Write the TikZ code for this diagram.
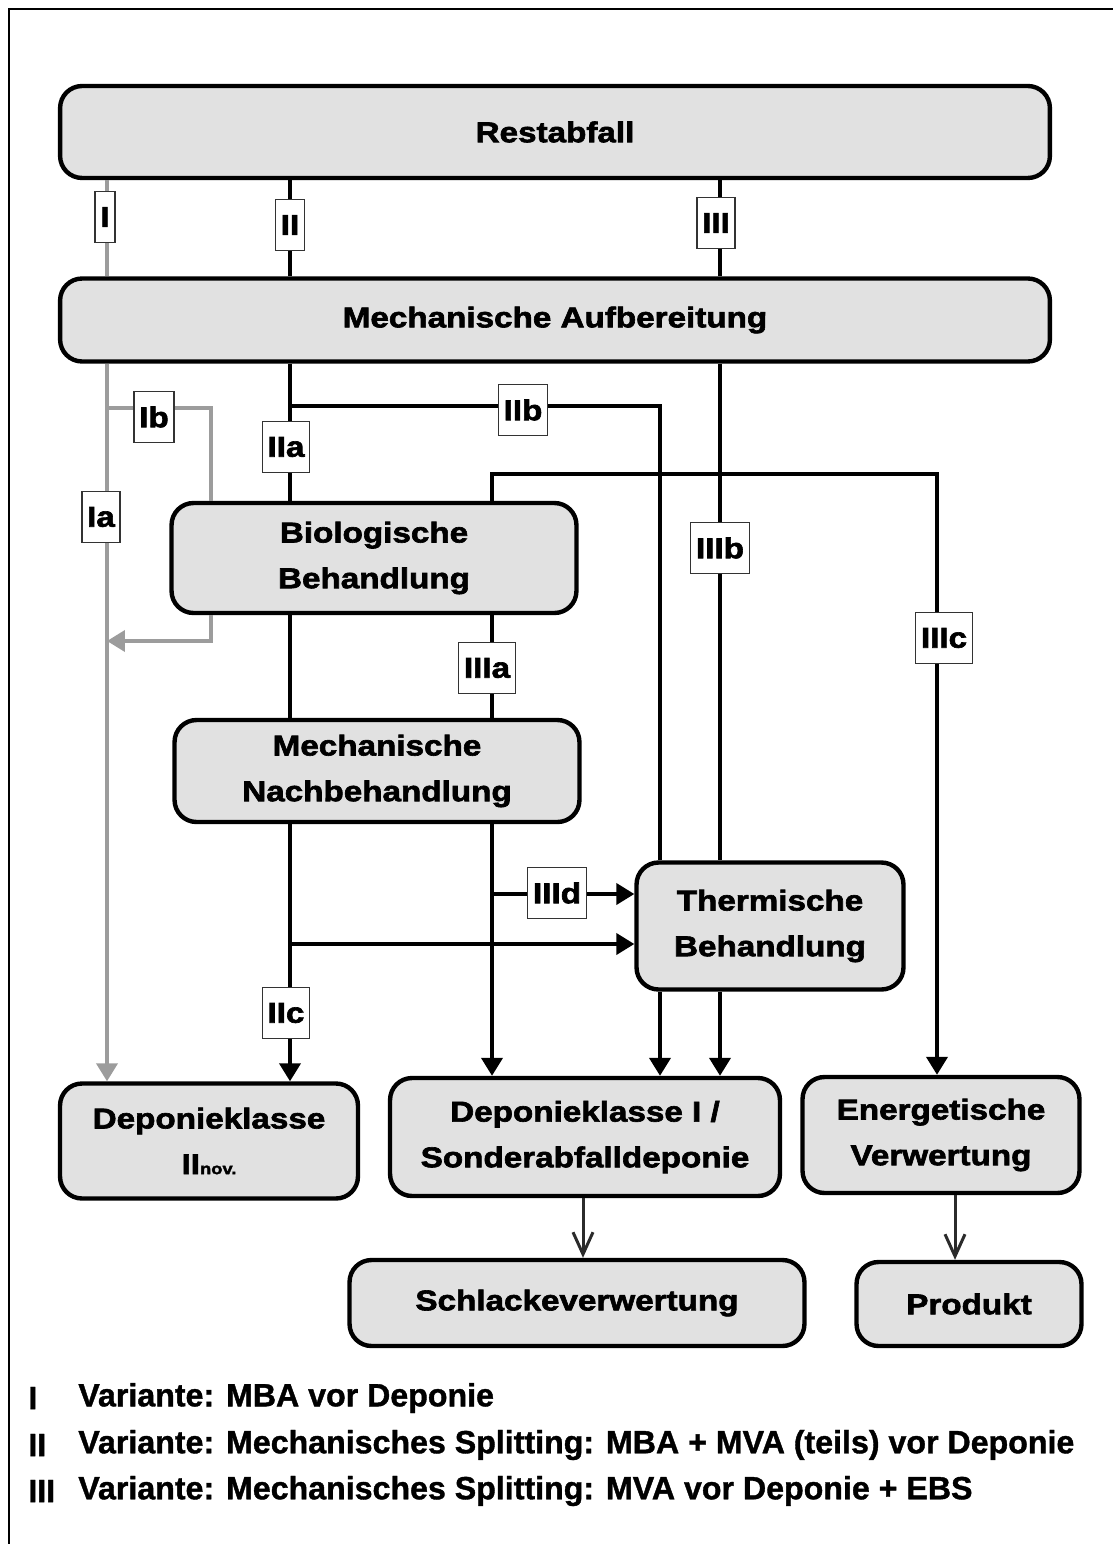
\documentclass[tikz,border=0pt]{standalone}
\usepackage{fontspec}
\usepackage{xcolor}
\usepackage{tikz}
\usetikzlibrary{arrows.meta,positioning}
\newfontfamily\boxfont[FakeStretch=1.16,FakeBold=2.2]{Liberation Sans Bold}
\newfontfamily\legfont[FakeBold=1.2]{Liberation Sans Bold}
\definecolor{boxgray}{HTML}{E1E1E1}
\definecolor{flowgray}{HTML}{9C9C9C}
\definecolor{darkline}{HTML}{2B2B2B}

\begin{document}
\begin{tikzpicture}[x=0.02cm, y=-0.02cm,
  box/.style={draw, fill=boxgray, line width=2.5pt, rounded corners=0.44cm,
    align=center, inner sep=0pt, font={\boxfont\fontsize{16.3}{26}\selectfont}},
  tag/.style={draw=black!80, fill=white, line width=0.8pt, inner xsep=3pt,
    inner ysep=0pt, minimum height=1.02cm, font={\boxfont\fontsize{16.3}{16}\selectfont}},
  flow/.style={line width=2.2pt, black},
  grayflow/.style={line width=2.2pt, flowgray},
  arrowed/.style={-{Triangle[length=0.36cm,width=0.42cm]}},
  outflow/.style={darkline, line width=1.7pt, -{Straight Barb[length=0.44cm,width=0.4cm]}},
  legend/.style={anchor=west, inner sep=0pt, font={\legfont\fontsize{18.3}{18.3}\selectfont}}]

\useasboundingbox (0,0) rectangle (1112,1544);
% Frame
\draw[line width=1.3pt] (9,1600) -- (9,9) -- (1160,9);

% Process boxes
\node[box, minimum width=19.8cm, minimum height=1.84cm] (rest) at (555,132) {Restabfall};
\node[box, minimum width=19.8cm, minimum height=1.66cm] (mech) at (555,320) {Mechanische Aufbereitung};
\node[box, minimum width=8.1cm, minimum height=2.2cm] (bio) at (374,558) {Biologische\\Behandlung};
\node[box, minimum width=8.1cm, minimum height=2.04cm] (nach) at (377,771) {Mechanische\\Nachbehandlung};
\node[box, minimum width=5.34cm, minimum height=2.54cm] (therm) at (770,926) {Thermische\\Behandlung};
\node[box, minimum width=5.96cm, minimum height=2.3cm] (dep2) at (209,1141) {Deponieklasse\\II{\fontsize{9}{9}\selectfont nov.}};
\node[box, minimum width=7.8cm, minimum height=2.36cm] (dep1) at (585,1137) {Deponieklasse I /\\Sonderabfalldeponie};
\node[box, minimum width=5.54cm, minimum height=2.32cm] (energ) at (941,1135) {Energetische\\Verwertung};
\node[box, minimum width=9.1cm, minimum height=1.72cm] (schl) at (577,1303) {Schlackeverwertung};
\node[box, minimum width=4.5cm, minimum height=1.68cm] (prod) at (969,1304) {Produkt};

% Columns and junctions
\coordinate (cI) at (107,0);
\coordinate (cIb) at (211,0);
\coordinate (cII) at (290,0);
\coordinate (cIIIa) at (492,0);
\coordinate (cIIb) at (660,0);
\coordinate (cIII) at (720,0);
\coordinate (cDep) at (583,0);
\coordinate (cEn) at (955,0);
\coordinate (jIb) at (107,408);
\coordinate (rIb) at (107,641);
\coordinate (jIIb) at (290,406);
\coordinate (jIIIc) at (937,474);
\coordinate (jIIc) at (290,944);
\coordinate (jIIId) at (492,894);

% Variante I (grey)
\draw[grayflow] (cI |- rest.south) -- (cI |- mech.north);
\draw[grayflow, arrowed] (cI |- mech.south) -- (cI |- dep2.north);
\draw[grayflow] (jIb) -- (jIb -| cIb) -- (cIb |- bio.north);
\draw[grayflow, arrowed] (cIb |- bio.south) |- (rIb);

% Varianten II and III
\draw[flow] (cII |- rest.south) -- (cII |- mech.north);
\draw[flow] (cIII |- rest.south) -- (cIII |- mech.north);
\draw[flow] (cII |- mech.south) -- (cII |- bio.north);
\draw[flow] (jIIb) -| (cIIb |- therm.north);
\draw[flow] (cIII |- mech.south) -- (cIII |- therm.north);
\draw[flow, arrowed] (cIIIa |- bio.north) |- (jIIIc) -- (jIIIc |- energ.north);
\draw[flow] (cII |- bio.south) -- (cII |- nach.north);
\draw[flow] (cIIIa |- bio.south) -- (cIIIa |- nach.north);
\draw[flow, arrowed] (cII |- nach.south) -- (cII |- dep2.north);
\draw[flow, arrowed] (jIIc) -- (jIIc -| therm.west);
\draw[flow, arrowed] (cIIIa |- nach.south) -- (cIIIa |- dep1.north);
\draw[flow, arrowed] (jIIId) -- (jIIId -| therm.west);
\draw[flow, arrowed] (cIIb |- therm.south) -- (cIIb |- dep1.north);
\draw[flow, arrowed] (cIII |- therm.south) -- (cIII |- dep1.north);
\draw[outflow] (cDep |- dep1.south) -- (cDep |- schl.north);
\draw[outflow] (cEn |- energ.south) -- (cEn |- prod.north);

% Path tags
\node[tag] (tI) at (105,217) {I};
\node[tag] (tII) at (290,225) {II};
\node[tag] (tIII) at (716,223) {III};
\node[tag] (tIb) at (154,417) {Ib};
\node[tag] (tIa) at (101,517) {Ia};
\node[tag] (tIIa) at (286,447) {IIa};
\node[tag] (tIIb) at (523,410) {IIb};
\node[tag] (tIIIb) at (720,548) {IIIb};
\node[tag] (tIIIc) at (944,638) {IIIc};
\node[tag] (tIIIa) at (487,668) {IIIa};
\node[tag] (tIIId) at (557,893) {IIId};
\node[tag] (tIIc) at (286,1013) {IIc};

% Legend
\node[legend] (lI) at (28,1398) {I};
\node[legend] (lII) at (28,1445) {II};
\node[legend] (lIII) at (28,1491) {III};
\node[legend] (vI) at (78,1398) {Variante: MBA vor Deponie};
\node[legend] (vII) at (78,1445) {Variante: Mechanisches Splitting: MBA + MVA (teils) vor Deponie};
\node[legend] (vIII) at (78,1491) {Variante: Mechanisches Splitting: MVA vor Deponie + EBS};
\end{tikzpicture}
\end{document}
